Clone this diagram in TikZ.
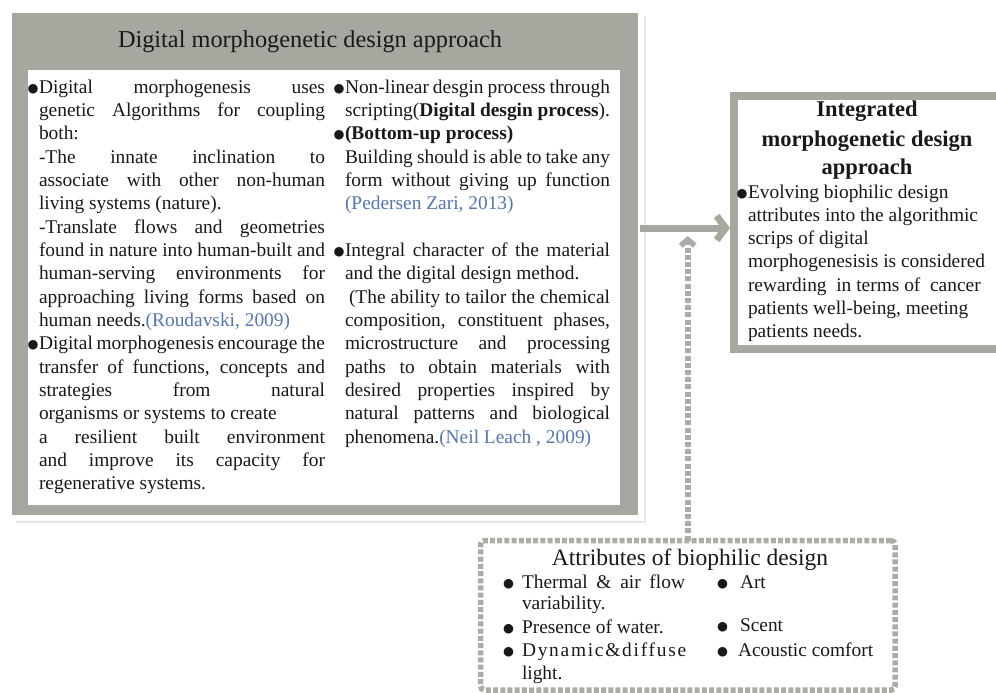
\documentclass[tikz,border=0pt]{standalone}
\usepackage{fontspec}
\setmainfont{Liberation Serif}
\newfontfamily\symf{DejaVu Sans}
\usetikzlibrary{arrows.meta}
\definecolor{frame}{RGB}{168,167,159}
\definecolor{dotc}{RGB}{172,171,165}
\definecolor{cite}{RGB}{88,118,168}
\definecolor{ink}{RGB}{25,25,25}
\definecolor{shadowc}{RGB}{234,228,230}
\newcommand\jline[1]{\hbox to \hsize{#1}}
\newcommand\lline[1]{\hbox to \hsize{#1\hfil}}
\newcommand\bulglyph{\smash{\raisebox{0.05em}{\symf\fontsize{12.5}{12.5}\selectfont ●}}}
\newcommand\bul{\llap{\bulglyph\kern0.5pt}}
\newcommand\abul[1]{\llap{\bulglyph\kern#1}}
\newcommand\cit[1]{{\color{cite}#1}}
\begin{document}
\begin{tikzpicture}[x=1pt,y=-1pt,
  every node/.style={inner sep=0pt, outer sep=0pt, text=ink},
  body/.style={font=\fontsize{19.4}{23.35}\selectfont},
  panelfill/.style={fill=frame},
  whitefill/.style={fill=white},
  framebox/.style={draw=frame, line width=8pt},
  dotbox/.style={draw=dotc, line width=5.5pt, dash pattern=on 5pt off 2.2pt, rounded corners=4pt},
  grayarrow/.style={draw=frame, line width=7pt, -{Straight Barb[length=9pt,width=24pt]}},
  dotarrow/.style={draw=dotc, line width=5.5pt, dash pattern=on 5pt off 2.2pt, -{Straight Barb[length=6pt,width=14pt]}}]
\clip (0,0) rectangle (996,693);
\fill[white] (0,0) rectangle (996,693);
% ---------- left panel ----------
\draw[draw=shadowc, line width=2pt] (16,522) -- (645,522) -- (645,16);
\node[panelfill, minimum width=626pt, minimum height=502pt, anchor=north west] (lpanel) at (12,13) {};
\node[whitefill, minimum width=592pt, minimum height=435pt, anchor=north west] (lwhite) at (28,70) {};
\node[anchor=base, font=\fontsize{24.3}{29}\selectfont] (ltitle) at (310,48) {Digital morphogenetic design approach};
\node[anchor=base west, body] (lcol) at (39,93) {\parbox[t]{286pt}{\fontsize{19.4}{23.35}\selectfont
\jline{\bul Digital morphogenesis uses}
\jline{genetic Algorithms for coupling}
\lline{both:}
\jline{-The innate inclination to}
\jline{associate with other non-human}
\lline{living systems (nature).}
\jline{-Translate flows and geometries}
\jline{found in nature into human-built and}
\jline{human-serving environments for}
\jline{approaching living forms based on}
\lline{human needs.\cit{(Roudavski, 2009)}}
\jline{\bul Digital morphogenesis encourage the}
\jline{transfer of functions, concepts and}
\jline{strategies from natural}
\lline{organisms or systems to create}
\jline{a resilient built environment}
\jline{and improve its capacity for}
\lline{regenerative systems.}}};
\node[anchor=base west, body] (rcol) at (345,93) {\parbox[t]{265pt}{\fontsize{19.4}{23.35}\selectfont
\jline{\bul Non-linear desgin process through}
\jline{scripting(\textbf{Digital desgin process}).}
\lline{\bul\textbf{(Bottom-up process)}}
\jline{Building should is able to take any}
\jline{form without giving up function}
\lline{\cit{(Pedersen Zari, 2013)}}
\hbox{}
\jline{\bul Integral character of the material}
\lline{and the digital design method.}
\jline{\hspace{4pt}(The ability to tailor the chemical}
\jline{composition, constituent phases,}
\jline{microstructure and processing}
\jline{paths to obtain materials with}
\jline{desired properties inspired by}
\jline{natural patterns and biological}
\lline{phenomena.\cit{(Neil Leach , 2009)}}}};
% ---------- integrated box ----------
\node[framebox, minimum width=300pt, minimum height=253pt, anchor=north west] (ibox) at (734,96) {};
\node[anchor=base] (ititle) at (867,117) {\parbox[t]{250pt}{\centering\bfseries\fontsize{22.5}{29}\selectfont Integrated\\ morphogenetic design\\ approach}};
\node[anchor=base west] (ibody) at (748,198) {\parbox[t]{245pt}{\fontsize{19.4}{23.3}\selectfont
\lline{\bul Evolving biophilic design}
\lline{attributes into the algorithmic}
\lline{scrips of digital}
\lline{morphogenesisis is considered}
\lline{rewarding\ \ in terms of\ \ cancer}
\lline{patients well-being, meeting}
\lline{patients needs.}}};
% ---------- attributes box ----------
\node[dotbox, minimum width=414.5pt, minimum height=149.5pt, anchor=north west] (abox) at (480.5,540.5) {};
\node[anchor=base, font=\fontsize{23.5}{28}\selectfont] (atitle) at (690,565) {Attributes of biophilic design};
\node[anchor=base west, body] (a1) at (522,588) {\hbox to 163pt{\abul{8pt}Thermal \& air flow}};
\node[anchor=base west, body] (a1b) at (522,609) {variability.};
\node[anchor=base west, body] (a2) at (522,633) {\abul{8pt}Presence of water.};
\node[anchor=base west, body] (a3) at (522,656) {\abul{8pt}{\addfontfeatures{LetterSpace=9}Dynamic\&diffuse}};
\node[anchor=base west, body] (a3b) at (522,679) {light.};
\node[anchor=base west, body] (b1) at (740,588) {\abul{12pt}Art};
\node[anchor=base west, body] (b2) at (740,631) {\abul{12pt}Scent};
\node[anchor=base west, body] (b3) at (738,656) {\abul{10pt}Acoustic comfort};
% ---------- connectors ----------
\coordinate (a0) at (640,228);
\draw[grayarrow] (a0) -- ([xshift=-4pt]ibox.west |- a0);
\coordinate (d1) at (abox.north |- 0,236);
\draw[dotarrow] (abox.north) -- (d1);
\end{tikzpicture}
\end{document}
